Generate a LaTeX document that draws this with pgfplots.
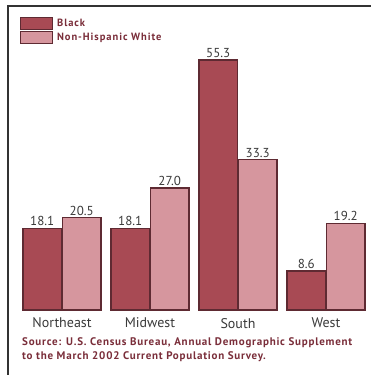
\documentclass[border=0pt]{standalone}
\usepackage{fontspec}
\setmainfont{PT Sans}
\newfontfamily\srcfont[LetterSpace=7]{PT Sans}
\newfontfamily\legfont[LetterSpace=9]{PT Sans}
\usepackage{pgfplots}
\pgfplotsset{compat=1.18}
\definecolor{darkbar}{RGB}{168,74,84}
\definecolor{lightbar}{RGB}{214,150,158}
\definecolor{barline}{RGB}{94,42,50}
\definecolor{txt}{RGB}{58,58,58}
\definecolor{srcc}{RGB}{122,46,58}
\begin{document}
\begin{tikzpicture}
\useasboundingbox (0,0) rectangle (371pt,375pt);
\fill[white] (0,0) rectangle (371pt,375pt);
\draw[line width=1.2pt, black!80] (8pt,0) -- (8pt,369pt) -- (371pt,369pt);
\begin{axis}[
  at={(18pt,65pt)}, anchor=south west,
  scale only axis, width=352pt, height=271.2pt,
  xmin=-0.5, xmax=3.5, ymin=0, ymax=60,
  clip=false,
  axis line style={draw=none},
  major tick length=0pt,
  ytick=\empty,
  xtick={0,1,2,3},
  xticklabels={Northeast,Midwest,South,West},
  xticklabel style={font=\fontsize{14}{16}\selectfont, text=txt, yshift=-4.5pt},
  ybar, bar width=38.5pt,
  legend image code/.code={\draw[#1, line width=0.8pt] (0pt,-6pt) rectangle (32pt,6pt);},
  legend style={at={(0.006,1.080)}, anchor=north west, draw=none, fill=none,
    font=\legfont\fontsize{10.5}{12}\selectfont\bfseries, text=srcc, row sep=0.5pt, inner sep=0pt,
    /tikz/column sep=2pt},
  legend cell align=left,
  nodes near coords,
  every node near coord/.append style={font=\fontsize{13}{15}\selectfont, text=txt, inner sep=1.5pt},
  /pgf/number format/fixed,
  /pgf/number format/fixed zerofill,
  /pgf/number format/precision=1,
  /pgf/number format/assume math mode=true,
]
\addplot[fill=darkbar, draw=barline, line width=1.3pt, bar shift=-19.75pt]
  coordinates {(0,18.1) (1,18.1) (2,55.3) (3,8.6)};
\addplot[fill=lightbar, draw=barline, line width=1.3pt, bar shift=19.75pt]
  coordinates {(0,20.5) (1,27.0) (2,33.3) (3,19.2)};
\legend{Black, Non-Hispanic White}
\end{axis}
\node[anchor=west, inner sep=0pt, font=\srcfont\fontsize{11}{13}\selectfont\bfseries, text=srcc] at (22pt,32pt) {Source: U.S. Census Bureau, Annual Demographic Supplement};
\node[anchor=west, inner sep=0pt, font=\srcfont\fontsize{11}{13}\selectfont\bfseries, text=srcc] at (22pt,18pt) {to the March 2002 Current Population Survey.};
\end{tikzpicture}
\end{document}
